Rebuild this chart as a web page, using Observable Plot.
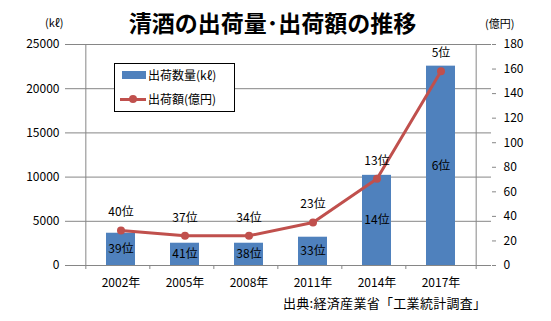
<!DOCTYPE html>
<html><head><meta charset="utf-8">
<script src="https://cdn.jsdelivr.net/npm/d3@7"></script>
<script src="https://cdn.jsdelivr.net/npm/@observablehq/plot@0.6"></script>
<style>
body{margin:0;background:#fff;font-family:"Noto Sans CJK JP","Noto Sans",sans-serif;}
#wrap{position:relative;width:551px;height:321px;}
.t{position:absolute;white-space:nowrap;color:#000;}
</style></head><body>
<div id="wrap">
<div class="t" style="left:0;width:545px;top:5px;text-align:center;font-size:23px;font-weight:bold;">清酒の出荷量･出荷額の推移</div>
<div class="t" style="left:45px;top:14px;font-size:11px;">(kℓ)</div>
<div class="t" style="left:485px;top:15px;font-size:11px;">(億円)</div>
<div class="t" style="left:283px;top:293px;font-size:13px;letter-spacing:0.3px;">出典:経済産業省「工業統計調査」</div>
<div id="chart" style="position:absolute;left:0;top:0;"></div>
<div class="t" style="left:114px;top:63px;width:119px;height:47px;border:1px solid #000;background:#fff;font-size:12px;">
  <div style="position:absolute;left:7px;top:7px;width:24px;height:8px;background:#4F81BD;"></div>
  <div style="position:absolute;left:33px;top:2px;">出荷数量(kℓ)</div>
  <div style="position:absolute;left:5px;top:34px;width:26px;height:3px;background:#C0504D;"></div>
  <div style="position:absolute;left:14px;top:31px;width:8px;height:8px;border-radius:50%;background:#C0504D;"></div>
  <div style="position:absolute;left:33px;top:26px;">出荷額(億円)</div>
</div>
</div>
<script>
const years = ["2002年","2005年","2008年","2011年","2014年","2017年"];
const volume = [3650, 2520, 2520, 3200, 10200, 22550];
const amount = [28.5, 24.2, 24.2, 35, 70.6, 158.3];
const volumeRank = ["39位","41位","38位","33位","14位","6位"];
const amountRank = ["40位","37位","34位","23位","13位","5位"];
const leftTicks = [0,5000,10000,15000,20000,25000];
const rightTicks = [0,20,40,60,80,100,120,140,160,180];

const yMax = 25000, rMax = 180;
const k = yMax / rMax;
const data = years.map((y,i)=>({year:y, vol:volume[i], amt:amount[i], amtY:amount[i]*k, vr:volumeRank[i], ar:amountRank[i]}));
const axisColor = "#868686";
const step = (491 - 69) / years.length;

const chart = Plot.plot({
  width: 551, height: 321,
  marginLeft: 69, marginRight: 60, marginTop: 44, marginBottom: 56,
  style: {fontFamily: '"Noto Sans CJK JP","Noto Sans",sans-serif', fontSize: "12px", color: "#000", background: "transparent"},
  x: {domain: years, padding: 0.55, label: null},
  y: {domain: [0, yMax], label: null},
  marks: [
    Plot.ruleY(leftTicks.slice(1), {stroke: axisColor, strokeWidth: 1}),
    Plot.barY(data, {x: "year", y: "vol", fill: "#4F81BD"}),
    Plot.ruleY([0], {stroke: axisColor}),
    Plot.ruleX([years[0]], {stroke: axisColor, dx: -step/2, y1: 0, y2: yMax}),
    Plot.ruleX([years[years.length-1]], {stroke: axisColor, dx: step/2, y1: 0, y2: yMax}),
    Plot.ruleX(years, {stroke: axisColor, dx: -step/2, y1: 0, y2: -yMax*4/221}),
    Plot.ruleX([years[years.length-1]], {stroke: axisColor, dx: step/2, y1: 0, y2: -yMax*4/221}),
    Plot.axisY({ticks: leftTicks, tickSize: 4, tickPadding: 6, stroke: axisColor, tickFormat: d => String(d), fontSize: 12}),
    Plot.axisY({anchor: "right", ticks: rightTicks.map(v => v*k), tickSize: 4, tickPadding: 8, stroke: axisColor, tickFormat: d => String(Math.round(d/k)), fontSize: 12}),
    Plot.axisX({tickSize: 0, tickPadding: 13, fontSize: 12}),
    Plot.line(data, {x: "year", y: "amtY", stroke: "#C0504D", strokeWidth: 3}),
    Plot.dot(data, {x: "year", y: "amtY", fill: "#C0504D", r: 4}),
    Plot.text(data, {x: "year", y: "amtY", text: "ar", dy: -18, fontSize: 12, fill: "#000"}),
    Plot.text(data, {x: "year", y: d => d.vol/2, text: "vr", fontSize: 12, fill: "#000"})
  ]
});
document.getElementById("chart").appendChild(chart);
</script>
</body></html>
